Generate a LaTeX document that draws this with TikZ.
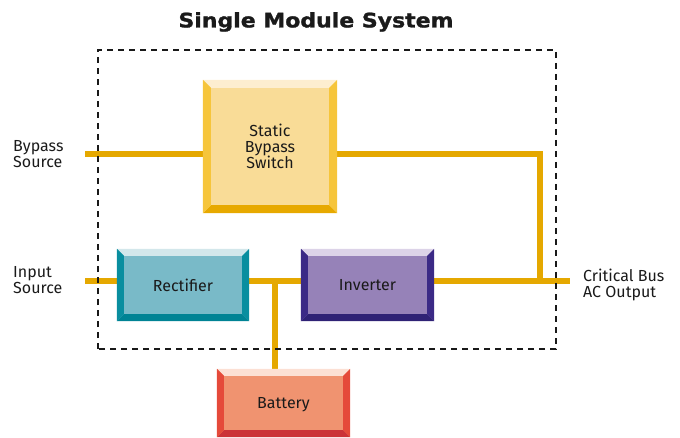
\documentclass[tikz,border=0pt]{standalone}
\usepackage{fontspec}
\setmainfont{Fira Sans}
\newfontfamily\titlefont{DejaVu Sans}[UprightFont=* Bold, FakeBold=1.2]
\usetikzlibrary{calc}
\definecolor{busc}{HTML}{E5A800}
\definecolor{sbsface}{HTML}{F9DC97}
\definecolor{sbstop}{HTML}{FDEED0}
\definecolor{sbsside}{HTML}{F6C53B}
\definecolor{sbsbot}{HTML}{E7A900}
\definecolor{recface}{HTML}{79BAC8}
\definecolor{rectop}{HTML}{D3E7EB}
\definecolor{recside}{HTML}{098E9F}
\definecolor{recbot}{HTML}{008394}
\definecolor{invface}{HTML}{9682B8}
\definecolor{invtop}{HTML}{DCD3E8}
\definecolor{invside}{HTML}{3B2A86}
\definecolor{invbot}{HTML}{2F2275}
\definecolor{batface}{HTML}{F09370}
\definecolor{battop}{HTML}{FCE0D4}
\definecolor{batside}{HTML}{E54A3A}
\definecolor{batbot}{HTML}{CB3338}
\definecolor{txt}{HTML}{1A1A1A}
% bevelled frame around a node: name, width, top, sides, bottom
\newcommand\bevelframe[5]{%
  \fill[#3] (#1.north west) -- (#1.north east) -- ([shift={(-#2,-#2)}]#1.north east) -- ([shift={(#2,-#2)}]#1.north west) -- cycle;
  \fill[#5] (#1.south west) -- (#1.south east) -- ([shift={(-#2,#2)}]#1.south east) -- ([shift={(#2,#2)}]#1.south west) -- cycle;
  \fill[#4] (#1.north west) -- ([shift={(#2,-#2)}]#1.north west) -- ([shift={(#2,#2)}]#1.south west) -- (#1.south west) -- cycle;
  \fill[#4] (#1.north east) -- ([shift={(-#2,-#2)}]#1.north east) -- ([shift={(-#2,#2)}]#1.south east) -- (#1.south east) -- cycle;
}
\begin{document}
\begin{tikzpicture}[x=1pt,y=1pt,
  unit/.style={inner sep=0pt, align=center, text=txt,
    font=\fontsize{16}{15.8}\selectfont},
  lbl/.style={inner sep=0pt, align=left, anchor=west, text=txt,
    font=\fontsize{16}{15.5}\selectfont},
  bus/.style={draw=busc, line width=6.5pt},
  frame/.style={draw=black!90, line width=1.6pt, dash pattern=on 6pt off 5pt}]
\useasboundingbox (0,0) rectangle (680,437);

% title
\node[font=\titlefont\fontsize{20}{24}\selectfont, text=txt] (title) at (316,415) {\scalebox{1.1}[1]{Single Module System}};

% free ends of the bus lines
\coordinate (bypin) at (85,283);
\coordinate (inpin) at (85,156);
\coordinate (outpt) at (570,156);
\coordinate (corner) at (540,283);
\coordinate (junc) at (540,156);
\coordinate (tap) at (275,156);

% units
\node[unit, minimum width=134pt, minimum height=133pt] (sbs) at (270,290.5) {};
\node[unit, minimum width=132pt, minimum height=72pt] (rec) at (183,152) {};
\node[unit, minimum width=133pt, minimum height=72pt] (inv) at (367.5,152) {};
\node[unit, minimum width=133pt, minimum height=68pt] (bat) at (283.5,34) {};

% bus lines
\draw[bus] (bypin) -- (sbs.west |- bypin);
\draw[bus] (sbs.east |- bypin) -- (corner) -- (junc);
\draw[bus] (inpin) -- (rec.west |- inpin);
\draw[bus] (rec.east |- inpin) -- (inv.west |- inpin);
\draw[bus] (inv.east |- inpin) -- (outpt);
\draw[bus] (tap) -- (bat.north -| tap);

% unit faces and bevels
\fill[sbsface] (sbs.south west) rectangle (sbs.north east);
\bevelframe{sbs}{8}{sbstop}{sbsside}{sbsbot}
\node[unit] at (sbs.center) {Static\\Bypass\\Switch};

\fill[recface] (rec.south west) rectangle (rec.north east);
\bevelframe{rec}{7}{rectop}{recside}{recbot}
\node[unit] at (rec.center) {Rectifier};

\fill[invface] (inv.south west) rectangle (inv.north east);
\bevelframe{inv}{7}{invtop}{invside}{invbot}
\node[unit] at (inv.center) {Inverter};

\fill[batface] (bat.south west) rectangle (bat.north east);
\bevelframe{bat}{7}{battop}{batside}{batbot}
\node[unit] at ([yshift=-2pt]bat.center) {Battery};

% module boundary
\draw[frame] (98,88) rectangle (556,387);

% external labels
\node[lbl] (lbyp) at (13,283) {Bypass\\Source};
\node[lbl] (linp) at (13,157) {Input\\Source};
\node[lbl] (lout) at (583,152) {Critical Bus\\AC Output};
\end{tikzpicture}
\end{document}
